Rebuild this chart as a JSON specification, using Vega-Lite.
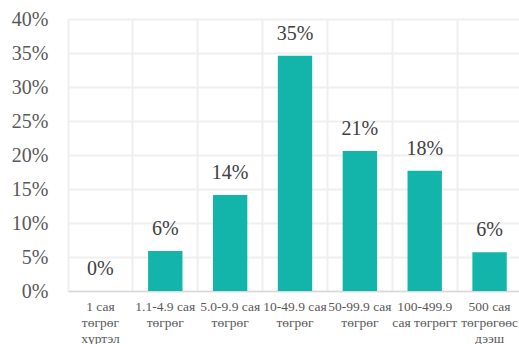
{
  "$schema": "https://vega.github.io/schema/vega-lite/v6.json",
  "autosize": {"type": "none"},
  "padding": {"left": 68, "top": 19, "right": 0, "bottom": 53},
  "width": 451,
  "height": 272,
  "background": "white",
  "config": {
    "view": {"stroke": null},
    "font": "Liberation Serif"
  },
  "data": {
    "values": [
      {"category": "1 сая\nтөгрөг\nхүртэл", "share": 0.0},
      {"category": "1.1-4.9 сая\nтөгрөг", "share": 0.059},
      {"category": "5.0-9.9 сая\nтөгрөг", "share": 0.141},
      {"category": "10-49.9 сая\nтөгрөг", "share": 0.346},
      {"category": "50-99.9 сая\nтөгрөг", "share": 0.206},
      {"category": "100-499.9\nсая төгрөгт", "share": 0.177},
      {"category": "500 сая\nтөгрөгөөс\nдээш", "share": 0.057}
    ]
  },
  "encoding": {
    "x": {
      "field": "category",
      "type": "nominal",
      "sort": null,
      "scale": {"paddingInner": 0, "paddingOuter": 0, "range": [0, 454]},
      "axis": {
        "title": null,
        "labelAngle": 0,
        "labelExpr": "split(datum.value, '\\n')",
        "labelFont": "Liberation Serif",
        "labelFontSize": 13.5,
        "labelColor": "#595959",
        "labelLineHeight": 16,
        "labelPadding": 8,
        "ticks": false,
        "domainColor": "#d9d9d9",
        "domainWidth": 1.5,
        "grid": true,
        "gridColor": "#efefef",
        "gridWidth": 2,
        "bandPosition": 0
      }
    },
    "y": {
      "field": "share",
      "type": "quantitative",
      "scale": {"domain": [0, 0.4], "nice": false},
      "axis": {
        "title": null,
        "format": ".0%",
        "values": [0, 0.05, 0.1, 0.15, 0.2, 0.25, 0.3, 0.35, 0.4],
        "labelFont": "Liberation Serif",
        "labelFontSize": 20,
        "labelColor": "#595959",
        "labelPadding": 20,
        "ticks": false,
        "domain": false,
        "gridColor": "#efefef",
        "gridWidth": 2
      }
    }
  },
  "layer": [
    {
      "mark": {"type": "bar", "color": "#13b5ab", "width": {"band": 0.53}}
    },
    {
      "mark": {"type": "text", "dy": -16, "baseline": "alphabetic", "align": "center", "fontSize": 20, "color": "#404040", "font": "Liberation Serif"},
      "encoding": {
        "text": {"field": "share", "type": "quantitative", "format": ".0%"}
      }
    }
  ]
}
